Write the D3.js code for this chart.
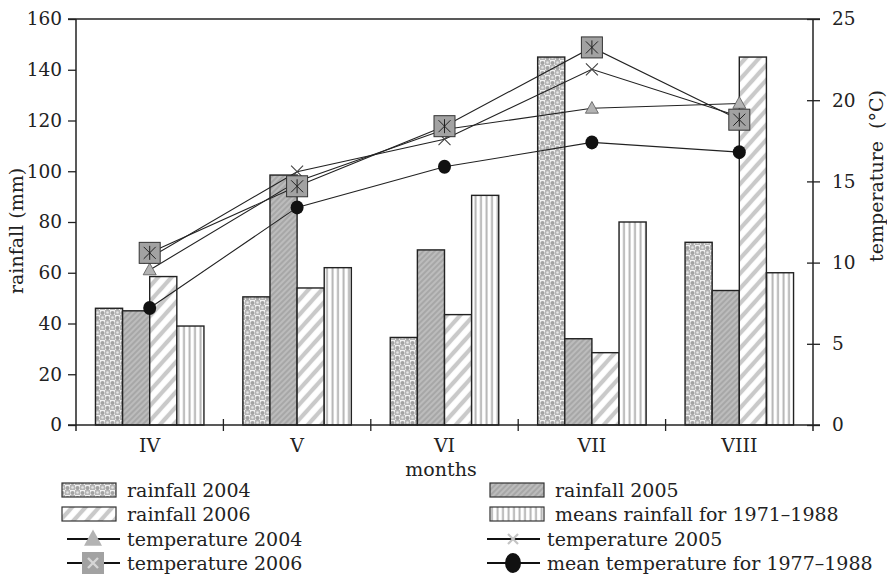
<!DOCTYPE html>
<html><head><meta charset="utf-8">
<script src="https://cdn.jsdelivr.net/npm/d3@7"></script>
<style>body{margin:0;background:#fff}svg{display:block}text{font-family:"DejaVu Serif",serif;fill:#222}</style>
</head><body><svg id="c" width="887" height="580"></svg>
<script>
const months = ["IV","V","VI","VII","VIII"];
const rain2004 = [46, 50.5, 34.5, 145, 72];
const rain2005 = [45, 98.5, 69, 34, 53];
const rain2006 = [58.5, 54, 43.5, 28.5, 145];
const rainMean = [39, 62, 90.5, 80, 60];
const temp2004 = [9.55, 15.0, 18.2, 19.5, 19.8];
const temp2005 = [10.3, 15.6, 17.6, 21.9, 19.0];
const temp2006 = [10.6, 14.7, 18.4, 23.25, 18.8];
const tempMean = [7.2, 13.4, 15.9, 17.4, 16.8];
const rainTicks = [0,20,40,60,80,100,120,140,160];
const tempTicks = [0,5,10,15,20,25];

const svg = d3.select("#c");
const L=76, R=813, T=19, B=425;
const x = d3.scaleBand().domain(months).range([L,R]);
const bw = x.bandwidth();
const gW = bw*0.736;
const barKeys = ["r2004","r2005","r2006","rmean"];
const x1 = d3.scaleBand().domain(barKeys).range([(bw-gW)/2,(bw+gW)/2]);
const yR = d3.scaleLinear().domain([0,160]).range([B,T]);
const yT = d3.scaleLinear().domain([0,25]).range([B,T]);

const defs = svg.append("defs");
// rainfall 2004: checker of gray circles
let p = defs.append("pattern").attr("id","p2004").attr("patternUnits","userSpaceOnUse").attr("width",10).attr("height",10);
p.append("rect").attr("width",10).attr("height",10).attr("fill","#f2f2f2");
p.append("rect").attr("x",5).attr("y",0).attr("width",5).attr("height",5).attr("fill","#b5b5b5");
p.append("rect").attr("x",0).attr("y",5).attr("width",5).attr("height",5).attr("fill","#b5b5b5");
p.append("circle").attr("cx",2.5).attr("cy",3).attr("r",2.1).attr("fill","#a3a3a3");
p.append("circle").attr("cx",7.5).attr("cy",8).attr("r",2.1).attr("fill","#a3a3a3");
p.append("circle").attr("cx",7.5).attr("cy",2.5).attr("r",1.3).attr("fill","#e6e6e6");
p.append("circle").attr("cx",2.5).attr("cy",7.5).attr("r",1.3).attr("fill","#e6e6e6");
// rainfall 2005: dense hatch
p = defs.append("pattern").attr("id","p2005").attr("patternUnits","userSpaceOnUse").attr("width",4).attr("height",4).attr("patternTransform","rotate(45)");
p.append("rect").attr("width",4).attr("height",4).attr("fill","#bcbcbc");
p.append("line").attr("x1",1).attr("x2",1).attr("y1",0).attr("y2",4).attr("stroke","#9c9c9c").attr("stroke-width",1.3);
// rainfall 2006: wide light stripes
p = defs.append("pattern").attr("id","p2006").attr("patternUnits","userSpaceOnUse").attr("width",10).attr("height",10).attr("patternTransform","rotate(42)");
p.append("rect").attr("width",10).attr("height",10).attr("fill","#fff");
p.append("line").attr("x1",3).attr("x2",3).attr("y1",0).attr("y2",10).attr("stroke","#c9c9c9").attr("stroke-width",4.2);
// mean rainfall: vertical stripes
p = defs.append("pattern").attr("id","pmean").attr("patternUnits","userSpaceOnUse").attr("width",5.5).attr("height",10);
p.append("rect").attr("width",5.5).attr("height",10).attr("fill","#fff");
p.append("line").attr("x1",2.5).attr("x2",2.5).attr("y1",0).attr("y2",10).attr("stroke","#b5b5b5").attr("stroke-width",2);

const barSeries = [
  {key:"r2004", vals:rain2004, fill:"url(#p2004)", label:"rainfall 2004"},
  {key:"r2005", vals:rain2005, fill:"url(#p2005)", label:"rainfall 2005"},
  {key:"r2006", vals:rain2006, fill:"url(#p2006)", label:"rainfall 2006"},
  {key:"rmean", vals:rainMean, fill:"url(#pmean)", label:"means rainfall for 1971–1988"}
];
barSeries.forEach(s=>{
  svg.append("g").selectAll("rect").data(months).join("rect")
    .attr("x",(m)=>x(m)+x1(s.key)).attr("width",x1.bandwidth())
    .attr("y",(m,i)=>yR(s.vals[i])).attr("height",(m,i)=>B-yR(s.vals[i]))
    .attr("fill",s.fill).attr("stroke","#222").attr("stroke-width",1.4);
});

// axes
const ax = svg.append("g").attr("stroke","#222").attr("stroke-width",1.5).attr("fill","none");
ax.append("line").attr("x1",68).attr("x2",820).attr("y1",T).attr("y2",T);
ax.append("line").attr("x1",68).attr("x2",820).attr("y1",B).attr("y2",B);
ax.append("line").attr("x1",L).attr("x2",L).attr("y1",T).attr("y2",B+6);
ax.append("line").attr("x1",R).attr("x2",R).attr("y1",T).attr("y2",B+6);

const gl = svg.append("g").attr("transform",`translate(${L},0)`)
  .call(d3.axisLeft(yR).tickValues(rainTicks).tickSize(8).tickPadding(6));
gl.select(".domain").remove();
gl.selectAll("line").attr("stroke","#222").attr("stroke-width",1.3);
gl.selectAll("text").attr("font-family","DejaVu Serif").attr("font-size",18.5).attr("fill","#222");

const gr = svg.append("g").attr("transform",`translate(${R},0)`)
  .call(d3.axisRight(yT).tickValues(tempTicks).tickSize(7).tickPadding(12));
gr.select(".domain").remove();
gr.selectAll("line").attr("stroke","#222").attr("stroke-width",1.3).attr("x1",-6);
gr.selectAll("text").attr("font-family","DejaVu Serif").attr("font-size",18.5).attr("fill","#222");

const gb = svg.append("g").attr("transform",`translate(0,${B})`)
  .call(d3.axisBottom(x).tickSize(0).tickPadding(14));
gb.select(".domain").remove();
gb.selectAll("text").attr("font-family","DejaVu Serif").attr("font-size",19).attr("fill","#222");
// category boundary ticks
svg.append("g").selectAll("line").data(months.slice(1)).join("line")
  .attr("x1",m=>x(m)).attr("x2",m=>x(m)).attr("y1",B-6).attr("y2",B+6)
  .attr("stroke","#222").attr("stroke-width",1.3);

svg.append("text").attr("x",441).attr("y",476).attr("text-anchor","middle").attr("font-size",19).text("months");
svg.append("text").attr("transform","translate(23,231) rotate(-90)").attr("text-anchor","middle").attr("font-size",19).text("rainfall (mm)");
svg.append("text").attr("transform","translate(883,176) rotate(-90)").attr("text-anchor","middle").attr("font-size",19).style("white-space","pre").text("temperature  (°C)");

// lines
const cx = m => x(m)+bw/2;
const lineSeries = [
  {vals:temp2005, type:"x", label:"temperature 2005"},
  {vals:tempMean, type:"circle", label:"mean temperature for 1977–1988"},
  {vals:temp2004, type:"tri", label:"temperature 2004"},
  {vals:temp2006, type:"sq", label:"temperature 2006"}
];
const lineGen = d3.line().x((d,i)=>cx(months[i])).y(d=>yT(d));
lineSeries.forEach(s=>{
  svg.append("path").attr("d",lineGen(s.vals)).attr("fill","none").attr("stroke","#222").attr("stroke-width",1.1);
});

function marker(g, type, big){
  if(type==="circle"){
    g.append("ellipse").attr("rx",big?8:6.5).attr("ry",big?10:7).attr("fill","#111");
  } else if(type==="tri"){
    const s=big?9:6.5;
    g.append("path").attr("d",`M0,${-s*1.05}L${s},${s*0.75}L${-s},${s*0.75}Z`).attr("fill","#b3b3b3").attr("stroke",big?"none":"#555").attr("stroke-width",0.8);
  } else if(type==="x"){
    const s=big?5:6;
    g.append("path").attr("d",`M${-s},${-s}L${s},${s}M${s},${-s}L${-s},${s}`).attr("stroke",big?"#c4c4c4":"#444").attr("stroke-width",big?2.2:1.1).attr("fill","none");
  } else if(type==="sq"){
    const s=big?11:10.5;
    g.append("rect").attr("x",-s).attr("y",-s).attr("width",2*s).attr("height",2*s).attr("fill","#a2a2a2").attr("stroke",big?"none":"#333").attr("stroke-width",1);
    const a=big?5:6;
    g.append("path").attr("d",`M${-a},${-a}L${a},${a}M${a},${-a}L${-a},${a}`+(big?"":`M0,${-a-1}L0,${a+1}`))
      .attr("stroke",big?"#d6d6d6":"#222").attr("stroke-width",big?2.4:1).attr("fill","none");
  }
}
lineSeries.forEach(s=>{
  s.vals.forEach((v,i)=>{
    const g = svg.append("g").attr("transform",`translate(${cx(months[i])},${yT(v)})`);
    marker(g, s.type, false);
  });
});

// legend
const rowY = [490, 514, 539, 563];
const leg = svg.append("g");
const legBars = [
  {s:barSeries[0], x:62, row:0}, {s:barSeries[2], x:62, row:1},
  {s:barSeries[1], x:490, row:0}, {s:barSeries[3], x:490, row:1}
];
legBars.forEach(d=>{
  leg.append("rect").attr("x",d.x).attr("y",rowY[d.row]-7).attr("width",54).attr("height",14)
    .attr("fill",d.s.fill).attr("stroke","#333").attr("stroke-width",1.2);
  leg.append("text").attr("x",d.x+65).attr("y",rowY[d.row]).attr("dy","0.35em").attr("font-size",19).text(d.s.label);
});
const legLines = [
  {s:lineSeries[2], x:67, row:2}, {s:lineSeries[3], x:67, row:3},
  {s:lineSeries[0], x:487, row:2}, {s:lineSeries[1], x:487, row:3}
];
legLines.forEach(d=>{
  leg.append("line").attr("x1",d.x).attr("x2",d.x+53).attr("y1",rowY[d.row]).attr("y2",rowY[d.row]).attr("stroke","#111").attr("stroke-width",2.2);
  const g = leg.append("g").attr("transform",`translate(${d.x+26},${rowY[d.row]})`);
  marker(g, d.s.type, true);
  leg.append("text").attr("x",d.x+60).attr("y",rowY[d.row]).attr("dy","0.35em").attr("font-size",19).text(d.s.label);
});
</script></body></html>
